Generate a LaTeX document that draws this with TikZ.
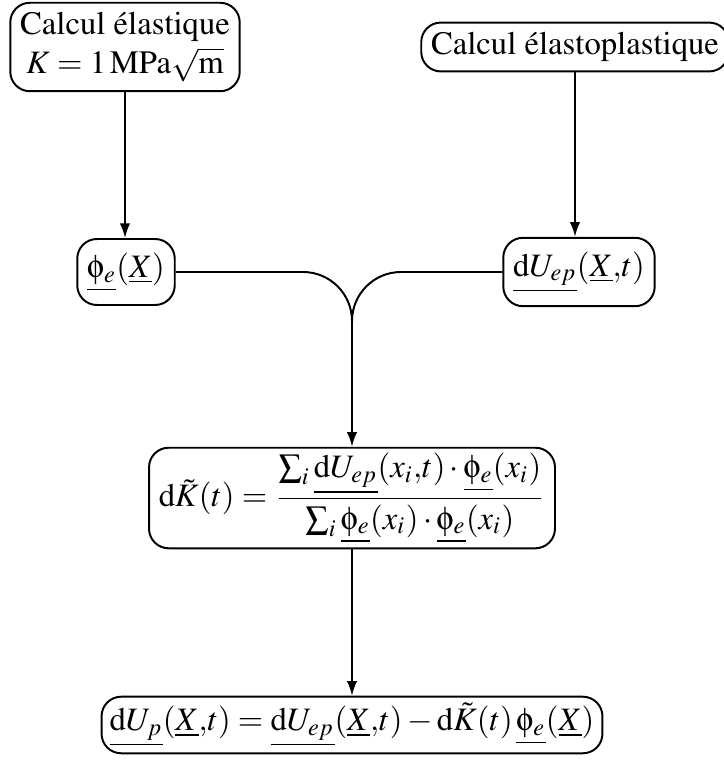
\documentclass[tikz,border=0pt]{standalone}
\usepackage[T1]{fontenc}
\usepackage{mathptmx}
\DeclareSymbolFont{upsymgreek}{U}{psy}{m}{n}
\DeclareMathSymbol{\upphi}{\mathord}{upsymgreek}{`f}
\usetikzlibrary{arrows.meta}
\tikzset{
  box/.style={draw, line width=0.6pt, rounded corners=6pt, inner sep=3pt, align=center, font=\normalsize},
  conn/.style={line width=0.6pt},
  arr/.style={conn, -{Latex[length=4.5pt,width=3.2pt]}}
}
\begin{document}
\begin{tikzpicture}[x=0.30581pt, y=-0.30581pt]
\useasboundingbox (0,0) rectangle (724,760);
\node[box] (A) at (125,47) {Calcul \'elastique\\ $K = 1\,\mathrm{MPa}\sqrt{\mathrm{m}}$};
\node[box] (B) at (575,47) {Calcul \'elastoplastique};
\node[box, inner ysep=4.2pt] (C) at (126,272) {$\underline{\upphi_e}(\underline{X})$};
\node[box, inner ysep=4.2pt] (D) at (579,272) {$\underline{\mathrm{d}U_{ep}}(\underline{X}{,}t)$};
\node[box, inner xsep=3pt, inner ysep=1.6pt] (E) at (352,498) {$\displaystyle \mathrm{d}\tilde{K}(t) = \frac{\sum_i \underline{\mathrm{d}U_{ep}}(x_i{,}t)\cdot\underline{\upphi_e}(x_i)}{\sum_i \underline{\upphi_e}(x_i)\cdot\underline{\upphi_e}(x_i)}$};
\node[box, inner xsep=2.5pt, inner ysep=2pt] (F) at (352,725) {$\underline{\mathrm{d}U_p}(\underline{X}{,}t) = \underline{\mathrm{d}U_{ep}}(\underline{X}{,}t) - \mathrm{d}\tilde{K}(t)\,\underline{\upphi_e}(\underline{X})$};
\coordinate (M) at (352,400);
\draw[arr] (A.south) -- (A.south |- C.north);
\draw[arr] (B.south) -- (B.south |- D.north);
\draw[conn, rounded corners=15pt] (C.east) -| (M);
\draw[conn, rounded corners=15pt] (D.west) -| (M);
\draw[arr] (M) -- (E.north);
\draw[arr] (E.south) -- (E.south |- F.north);
\end{tikzpicture}
\end{document}
